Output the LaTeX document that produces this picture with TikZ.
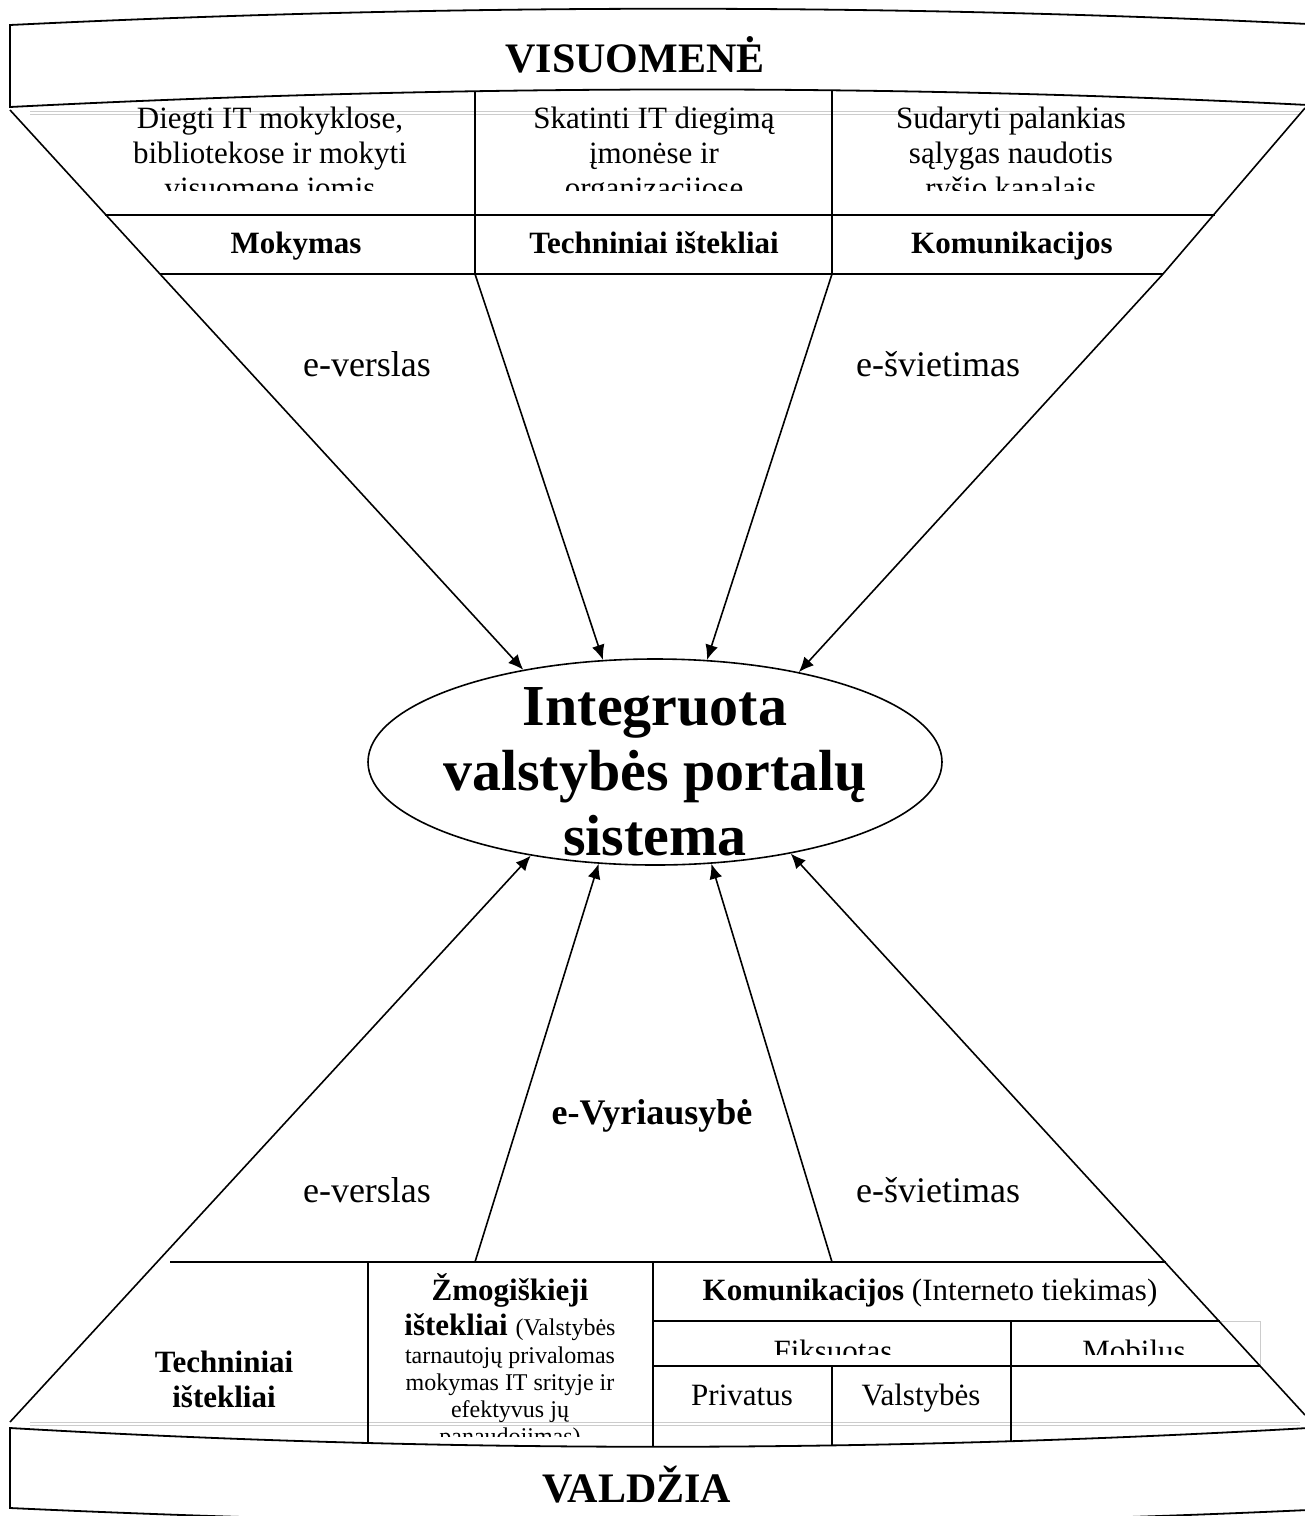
\documentclass[tikz,border=0pt]{standalone}
\usepackage{fontspec}
\setmainfont{Liberation Serif}
\usetikzlibrary{arrows.meta,shapes.geometric}
\tikzset{
  frame/.style={line width=0.9pt, black},
  ghost/.style={line width=0.4pt, gray!40},
  arr/.style={-{Latex[length=7.5pt,width=6.5pt]}, line width=0.8pt},
  title/.style={font=\fontsize{21}{25}\selectfont\bfseries, inner sep=0pt},
  celltxt/.style={align=center, font=\fontsize{15.5}{17.5}\selectfont, inner sep=0pt},
  cellhead/.style={align=center, font=\fontsize{15.5}{17.5}\selectfont\bfseries, inner sep=0pt},
  smalltxt/.style={align=center, font=\fontsize{12}{13.5}\selectfont, inner sep=0pt},
  flowlbl/.style={font=\fontsize{18}{21}\selectfont, inner sep=0pt},
  hub/.style={ellipse, draw, line width=0.8pt, minimum width=287pt,
    minimum height=103pt, inner sep=0pt}
}
\begin{document}
\begin{tikzpicture}[x=0.5pt, y=-0.5pt]
  \useasboundingbox (0,0) rectangle (1305,1516);

  % banners
  \draw[frame] (10,107) -- (10,25) .. controls (442,4) and (873,3) .. (1308,24)
    -- (1308,105) .. controls (873,83) and (442,85) .. cycle;
  \draw[frame] (10,1428) -- (10,1508) .. controls (442,1528) and (873,1530) .. (1308,1510)
    -- (1308,1428) .. controls (873,1453) and (442,1453) .. cycle;
  \node[title, anchor=base] (society) at (635,72) {VISUOMENĖ};
  \node[title, anchor=base] (govt) at (637,1502) {VALDŽIA};

  \draw[ghost] (30,111) -- (1300,111);
  \draw[ghost] (30,114) -- (1300,114);
  \draw[ghost] (30,1422) -- (1300,1422);
  \draw[ghost] (30,1425) -- (1300,1425);

  % central system
  \node[hub] (portal) at (655,762) {};
  \node[align=center, font=\fontsize{29}{32.5}\selectfont\bfseries, inner sep=0pt,
    anchor=base] (portaltxt) at (655,855) {Integruota\\valstybės portalų\\sistema};

  % upper table
  \coordinate (tl) at (10,110);
  \coordinate (tlk) at (160,274);
  \coordinate (ta) at (475,91);
  \coordinate (tak) at (475,274);
  \coordinate (tb) at (832,91);
  \coordinate (tbk) at (832,274);
  \coordinate (tr) at (1305,108);
  \coordinate (trk) at (1163,274);
  \draw[frame] (105,215) -- (1215,215);
  \draw[frame] (tlk) -- (trk);
  \begin{scope}
    \clip (100,100) rectangle (1230,190);
    \node[celltxt, anchor=base] (teach) at (270,198)
      {Diegti IT mokyklose,\\bibliotekose ir mokyti\\visuomenę jomis};
    \node[celltxt, anchor=base] (deploy) at (654,198)
      {Skatinti IT diegimą\\įmonėse ir\\organizacijose};
    \node[celltxt, anchor=base] (links) at (1011,198)
      {Sudaryti palankias\\sąlygas naudotis\\ryšio kanalais};
  \end{scope}
  \node[cellhead, anchor=base] (mokymas) at (296,253) {Mokymas};
  \node[cellhead, anchor=base] (techtop) at (654,253) {Techniniai ištekliai};
  \node[cellhead, anchor=base] (komtop) at (1012,253) {Komunikacijos};

  \draw[arr] (tl) -- (tlk) -- (portal.145);
  \draw[arr] (ta) -- (tak) -- (portal.117);
  \draw[arr] (tb) -- (tbk) -- (portal.63);
  \draw[arr] (tr) -- (trk) -- (portal.32);

  \node[flowlbl, anchor=base] (bizup) at (367,376) {e-verslas};
  \node[flowlbl, anchor=base] (eduup) at (938,376) {e-švietimas};

  % lower table
  \coordinate (bl) at (10,1422);
  \coordinate (ba) at (475,1262);
  \coordinate (bb) at (832,1262);
  \coordinate (br) at (1305,1415);
  \draw[frame] (170,1262) -- (1166,1262);
  \draw[ghost] (1011,1321) rectangle (1260,1366);
  \draw[frame] (653,1321) -- (1220,1321);
  \draw[frame] (653,1366) -- (1260,1366);
  \draw[frame] (368,1262) -- (368,1443);
  \draw[frame] (653,1262) -- (653,1447);
  \draw[frame] (832,1366) -- (832,1446);
  \draw[frame] (1011,1321) -- (1011,1442);

  \draw[arr] (bl) -- (portal.217);
  \draw[arr] (ba) -- (portal.241);
  \draw[arr] (bb) -- (portal.299);
  \draw[arr] (br) -- (portal.326);

  \node[flowlbl, font=\fontsize{18}{21}\selectfont\bfseries, anchor=base] (egov)
    at (652,1124) {e-Vyriausybė};
  \node[flowlbl, anchor=base] (bizdown) at (367,1202) {e-verslas};
  \node[flowlbl, anchor=base] (edudown) at (938,1202) {e-švietimas};

  \node[cellhead, anchor=base] (techbot) at (224,1407) {Techniniai\\ištekliai};
  \begin{scope}
    \clip (368,1262) rectangle (653,1436);
    \node[cellhead, anchor=base] (hrtitle) at (510,1335)
      {Žmogiškieji\\ištekliai {\mdseries\fontsize{12}{13.5}\selectfont (Valstybės}};
    \node[smalltxt, anchor=base] (hrnote) at (510,1444)
      {tarnautojų privalomas\\mokymas IT srityje ir\\efektyvus jų\\panaudojimas)};
  \end{scope}
  \node[celltxt, anchor=base] (kombot) at (930,1300)
    {\textbf{Komunikacijos} (Interneto tiekimas)};
  \begin{scope}
    \clip (653,1321) rectangle (1260,1354);
    \node[celltxt, anchor=base] (fixed) at (833,1361) {Fiksuotas};
    \node[celltxt, anchor=base] (mobile) at (1134,1361) {Mobilus};
  \end{scope}
  \node[celltxt, anchor=base] (private) at (742,1405) {Privatus};
  \node[celltxt, anchor=base] (public) at (921,1405) {Valstybės};
\end{tikzpicture}
\end{document}
